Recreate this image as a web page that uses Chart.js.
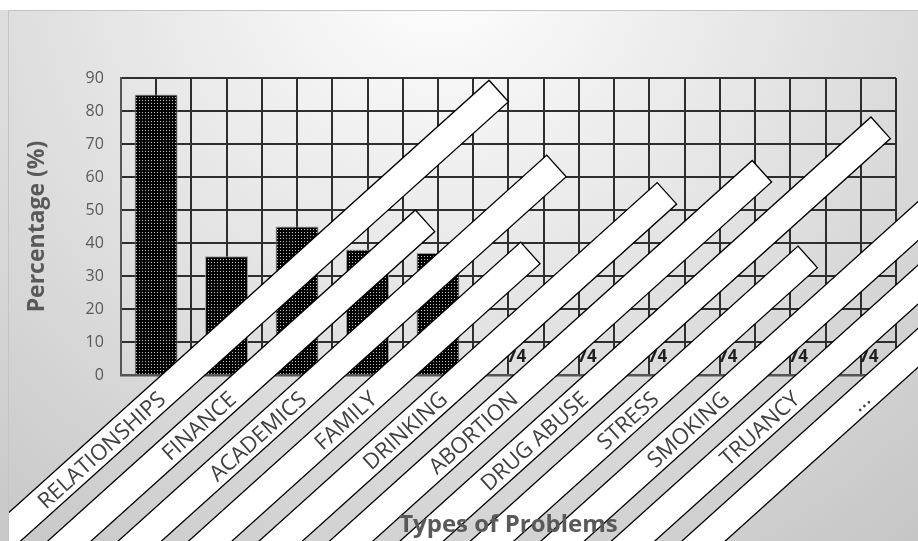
<!DOCTYPE html>
<html>
<head>
<meta charset="utf-8">
<script src="https://cdn.jsdelivr.net/npm/chart.js@4/dist/chart.umd.min.js"></script>
<style>
  html, body { margin: 0; padding: 0; background: #fff; }
  #wrap { width: 918px; height: 541px; position: relative; }
</style>
</head>
<body>
<div id="wrap"><canvas id="c" width="918" height="541"></canvas></div>
<script>
// Survey results: share of students reporting each type of problem
const categories = ['RELATIONSHIPS', 'FINANCE', 'ACADEMICS', 'FAMILY', 'DRINKING', 'ABORTION',
                    'DRUG ABUSE', 'STRESS', 'SMOKING', 'TRUANCY', '...'];
const percentages = [85, 36, 45, 38, 37, 0, 0, 0, 0, 0, 0];
const noteLabels = ['', '', '', '', '', '74', '74', '74', '74', '74', '74'];
const yTicks = [0, 10, 20, 30, 40, 50, 60, 70, 80, 90];

const FONT = '"Open Sans", "DejaVu Sans", sans-serif';
const GRID = '#2e2e2e';

// black fill with a fine grey dot grid for the bars
function dotPattern() {
  const t = document.createElement('canvas');
  t.width = 3; t.height = 3;
  const g = t.getContext('2d');
  g.fillStyle = '#000'; g.fillRect(0, 0, 3, 3);
  g.fillStyle = '#c4c4c4'; g.fillRect(1, 1, 1, 1);
  return document.getElementById('c').getContext('2d').createPattern(t, 'repeat');
}

// shaded backdrop of the chart panel
const backdrop = {
  id: 'backdrop',
  beforeDraw(chart) {
    const { ctx, width, height } = chart;
    ctx.save();
    ctx.fillStyle = '#fff';
    ctx.fillRect(0, 0, width, height);
    const g = ctx.createRadialGradient(440, -40, 0, 440, -40, 880);
    g.addColorStop(0, '#ffffff');
    g.addColorStop(1, '#bcbcbc');
    ctx.fillStyle = g;
    ctx.fillRect(0, 10, width, height - 10);
    ctx.strokeStyle = '#c4c4c4';
    ctx.lineWidth = 1;
    ctx.beginPath();
    ctx.moveTo(8.5, height); ctx.lineTo(8.5, 10.5); ctx.lineTo(width, 10.5);
    ctx.stroke();
    ctx.restore();
  }
};

// category names in long white slanted boxes, plus the small bar notes
const labelBands = {
  id: 'labelBands',
  afterDatasetsDraw(chart, args, o) {
    const { ctx, scales: { x, y } } = chart;
    const ang = o.angle * Math.PI / 180;
    const zero = y.getPixelForValue(0);

    ctx.save();
    ctx.font = o.noteFont;
    ctx.fillStyle = o.noteColor;
    ctx.textAlign = 'center';
    ctx.textBaseline = 'alphabetic';
    noteLabels.forEach((t, i) => {
      if (!t) return;
      ctx.fillText(t, x.getPixelForValue(i) + o.noteShift, y.getPixelForValue(percentages[i]) - o.noteLift);
    });
    ctx.restore();

    ctx.save();
    ctx.beginPath();
    ctx.rect(9, 11, chart.width - 9, chart.height - 11);
    ctx.clip();
    categories.forEach((name, i) => {
      ctx.save();
      ctx.translate(x.getPixelForValue(i), zero + o.drop);
      ctx.rotate(-ang);
      ctx.beginPath();
      ctx.rect(-900, 0, 900 + o.reach[i], o.thickness);
      ctx.fillStyle = '#fff';
      ctx.fill();
      ctx.lineWidth = 1.3;
      ctx.strokeStyle = '#000';
      ctx.stroke();
      ctx.font = o.font;
      ctx.fillStyle = o.color;
      ctx.textAlign = 'right';
      ctx.textBaseline = 'alphabetic';
      ctx.fillText(name, o.textEnd, o.baseline);
      ctx.restore();
    });
    ctx.restore();
  }
};

// horizontal axis title, kept above the slanted boxes
const xTitle = {
  id: 'xTitle',
  afterDraw(chart, args, o) {
    const { ctx, chartArea } = chart;
    ctx.save();
    ctx.font = o.font;
    ctx.fillStyle = o.color;
    ctx.textAlign = 'center';
    ctx.textBaseline = 'alphabetic';
    ctx.fillText(o.text, (chartArea.left + chartArea.right) / 2, o.baselineY);
    ctx.restore();
  }
};

new Chart(document.getElementById('c'), {
  type: 'bar',
  data: {
    labels: categories,
    datasets: [{
      data: percentages,
      backgroundColor: dotPattern(),
      borderColor: '#9a9a9a',
      borderWidth: 1,
      barPercentage: 0.61,
      categoryPercentage: 1
    }]
  },
  plugins: [backdrop, labelBands, xTitle],
  options: {
    responsive: false,
    animation: false,
    devicePixelRatio: 1,
    layout: { padding: { left: 20, top: 78, right: 22, bottom: 166 } },
    scales: {
      x: {
        offset: true,
        grid: { offset: true, color: GRID, lineWidth: 2, drawTicks: false },
        border: { color: '#555', width: 2.5 },
        ticks: { display: false }
      },
      x2: {
        type: 'category',
        labels: categories,
        position: 'bottom',
        offset: true,
        grid: { offset: false, color: GRID, lineWidth: 2, drawTicks: false },
        border: { display: false },
        ticks: { display: false }
      },
      y: {
        min: yTicks[0],
        max: yTicks[yTicks.length - 1],
        ticks: {
          stepSize: yTicks[1] - yTicks[0],
          padding: 17,
          color: '#595959',
          font: { family: FONT, size: 16 }
        },
        grid: { color: GRID, lineWidth: 2, drawTicks: false },
        border: { color: '#555', width: 2 },
        title: {
          display: true,
          text: 'Percentage (%)',
          color: '#595959',
          font: { family: FONT, size: 23, weight: 'bold' },
          padding: { top: 4, bottom: 17 }
        }
      }
    },
    plugins: {
      legend: { display: false },
      tooltip: { enabled: false },
      labelBands: {
        angle: 42,
        drop: 5,
        thickness: 29,
        reach: [448, 254, 336, 206, 295, 328, 393, 200, 600, 600, 600],
        font: '22px ' + FONT,
        color: '#404040',
        textEnd: -6,
        baseline: 23,
        noteFont: 'bold 17px ' + FONT,
        noteColor: '#1e1e1e',
        noteShift: 8,
        noteLift: 13
      },
      xTitle: {
        text: 'Types of Problems',
        font: 'bold 24px ' + FONT,
        color: '#595959',
        baselineY: 532
      }
    }
  }
});
</script>
</body>
</html>
